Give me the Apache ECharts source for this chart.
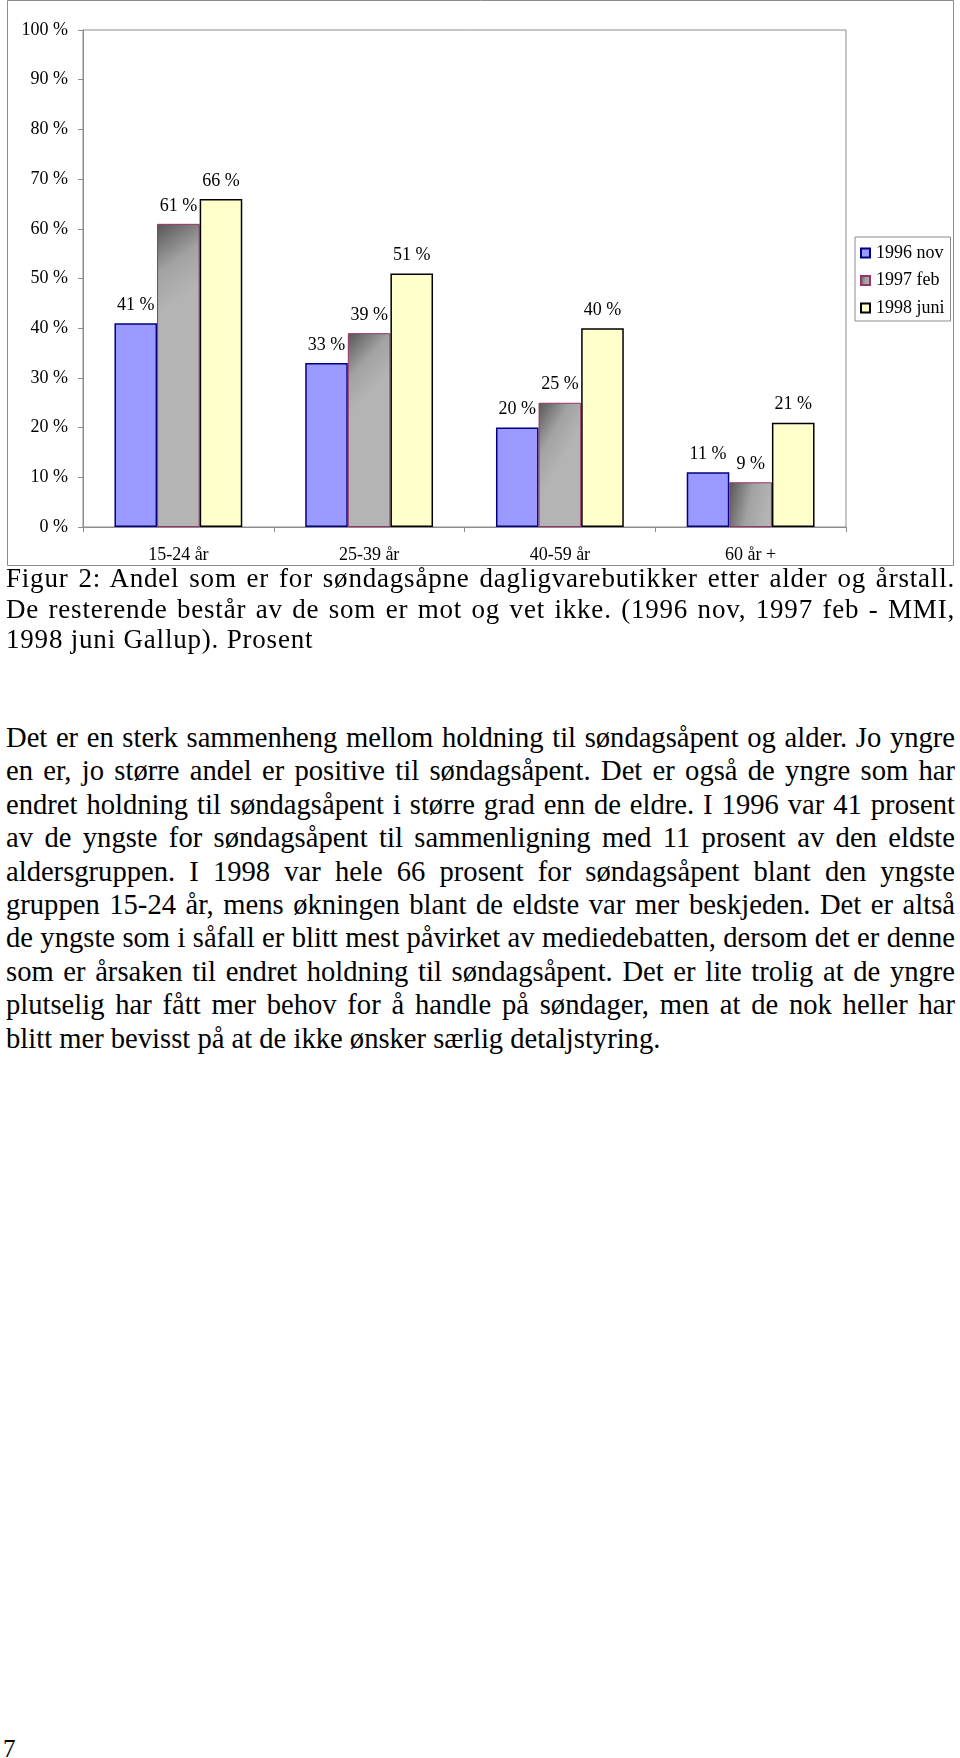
<!DOCTYPE html>
<html>
<head>
<meta charset="utf-8">
<script src="https://cdn.jsdelivr.net/npm/echarts@6/dist/echarts.min.js"></script>
<style>
  html, body { margin: 0; padding: 0; background: #fff; }
  body { width: 960px; height: 1758px; position: relative; overflow: hidden; font-family: 'Liberation Serif', 'Times New Roman', serif; color: #000; }
  #chart { position: absolute; left: 0; top: 0; width: 960px; height: 580px; }
  .block { position: absolute; left: 6px; width: 949px; }
  .ln { white-space: nowrap; }
  #caption { top: 563px; font-size: 27px; line-height: 30.5px; letter-spacing: 0.8px; }
  #bodytext { top: 721px; font-size: 28.6px; line-height: 33.4px; }
  #pageno { position: absolute; left: 3px; top: 1736px; font-size: 25px; line-height: 25px; }
</style>
</head>
<body>
<div id="chart"></div>
<div id="caption" class="block">
  <div class="ln j"><span>Figur 2: Andel som er for søndagsåpne dagligvarebutikker etter alder og årstall.</span></div>
  <div class="ln j"><span>De resterende består av de som er mot og vet ikke. (1996 nov, 1997 feb - MMI,</span></div>
  <div class="ln"><span>1998 juni Gallup). Prosent</span></div>
</div>
<div id="bodytext" class="block">
  <div class="ln j"><span>Det er en sterk sammenheng mellom holdning til søndagsåpent og alder. Jo yngre</span></div>
  <div class="ln j"><span>en er, jo større andel er positive til søndagsåpent. Det er også de yngre som har</span></div>
  <div class="ln j"><span>endret holdning til søndagsåpent i større grad enn de eldre. I 1996 var 41 prosent</span></div>
  <div class="ln j"><span>av de yngste for søndagsåpent til sammenligning med 11 prosent av den eldste</span></div>
  <div class="ln j"><span>aldersgruppen. I 1998 var hele 66 prosent for søndagsåpent blant den yngste</span></div>
  <div class="ln j"><span>gruppen 15-24 år, mens økningen blant de eldste var mer beskjeden. Det er altså</span></div>
  <div class="ln j"><span>de yngste som i såfall er blitt mest påvirket av mediedebatten, dersom det er denne</span></div>
  <div class="ln j"><span>som er årsaken til endret holdning til søndagsåpent. Det er lite trolig at de yngre</span></div>
  <div class="ln j"><span>plutselig har fått mer behov for å handle på søndager, men at de nok heller har</span></div>
  <div class="ln"><span>blitt mer bevisst på at de ikke ønsker særlig detaljstyring.</span></div>
</div>
<div id="pageno">7</div>
<script>
// ---- data ----
const categories = ['15-24 år', '25-39 år', '40-59 år', '60 år +'];
const seriesNames = ['1996 nov', '1997 feb', '1998 juni'];
const values1996nov = [41, 33, 20, 11];
const values1997feb = [61, 39, 25, 9];
const values1998juni = [66, 51, 40, 21];
const yMin = 0, yMax = 100, yStep = 10;

const FONT = "'Liberation Serif', 'Times New Roman', serif";
const chart = echarts.init(document.getElementById('chart'), null, { renderer: 'canvas' });

const grayGrad = new echarts.graphic.LinearGradient(0, 0, 1, 0.2, [
  { offset: 0, color: '#555555' },
  { offset: 0.55, color: '#a2a2a2' },
  { offset: 1, color: '#b4b4b4' }
]);

const labelCfg = {
  show: true, position: 'top', distance: 9,
  fontFamily: FONT, fontSize: 18, color: '#000',
  formatter: p => p.value + ' %'
};

chart.setOption({
  animation: false,
  backgroundColor: '#fff',
  textStyle: { fontFamily: FONT },
  grid: { left: 83, top: 30, width: 763, height: 497, show: true, borderColor: '#8c8c8c', borderWidth: 1, backgroundColor: 'transparent' },
  graphic: [{
    type: 'rect', silent: true, z: -1,
    shape: { x: 7.5, y: 0.5, width: 946, height: 565 },
    style: { fill: 'none', stroke: '#8c8c8c', lineWidth: 1 }
  }],
  legend: {
    orient: 'vertical', left: 855, top: 237,
    padding: [7, 6, 4, 5], itemGap: 9.5, itemWidth: 9, itemHeight: 9,
    borderColor: '#8c8c8c', borderWidth: 1, icon: 'rect',
    textStyle: { fontFamily: FONT, fontSize: 18, lineHeight: 18, color: '#000', padding: [0, 0, 0, 1] },
    data: seriesNames
  },
  xAxis: {
    type: 'category', data: categories,
    axisLine: { lineStyle: { color: '#8c8c8c', width: 1 } },
    axisTick: { show: true, alignWithLabel: false, length: 5, lineStyle: { color: '#8c8c8c' } },
    axisLabel: { fontFamily: FONT, fontSize: 18, color: '#000', margin: 19 }
  },
  yAxis: {
    type: 'value', min: yMin, max: yMax, interval: yStep,
    axisLine: { show: true, lineStyle: { color: '#8c8c8c', width: 1 } },
    axisTick: { show: true, length: 5, lineStyle: { color: '#8c8c8c' } },
    splitLine: { show: false },
    axisLabel: { fontFamily: FONT, fontSize: 18, color: '#000', margin: 15, formatter: '{value} %' }
  },
  series: [
    { name: seriesNames[0], type: 'bar', data: values1996nov, barGap: '0%', barCategoryGap: '33%',
      itemStyle: { color: '#9999ff', borderColor: '#000080', borderWidth: 1.5 }, label: labelCfg },
    { name: seriesNames[1], type: 'bar', data: values1997feb, barGap: '0%', barCategoryGap: '33%',
      itemStyle: { color: grayGrad, borderColor: '#993366', borderWidth: 1 }, label: labelCfg },
    { name: seriesNames[2], type: 'bar', data: values1998juni, barGap: '0%', barCategoryGap: '33%',
      itemStyle: { color: '#ffffcc', borderColor: '#000000', borderWidth: 1.5 }, label: labelCfg }
  ]
});

function justifyLines() {
  document.querySelectorAll('.ln.j').forEach(div => {
    const span = div.firstElementChild;
    span.style.wordSpacing = '0px';
    const natural = span.getBoundingClientRect().width;
    const spaces = (span.textContent.match(/ /g) || []).length;
    if (spaces) span.style.wordSpacing = ((949 - natural) / spaces) + 'px';
  });
}
justifyLines();
if (document.fonts && document.fonts.ready) document.fonts.ready.then(justifyLines);
</script>
</body>
</html>
